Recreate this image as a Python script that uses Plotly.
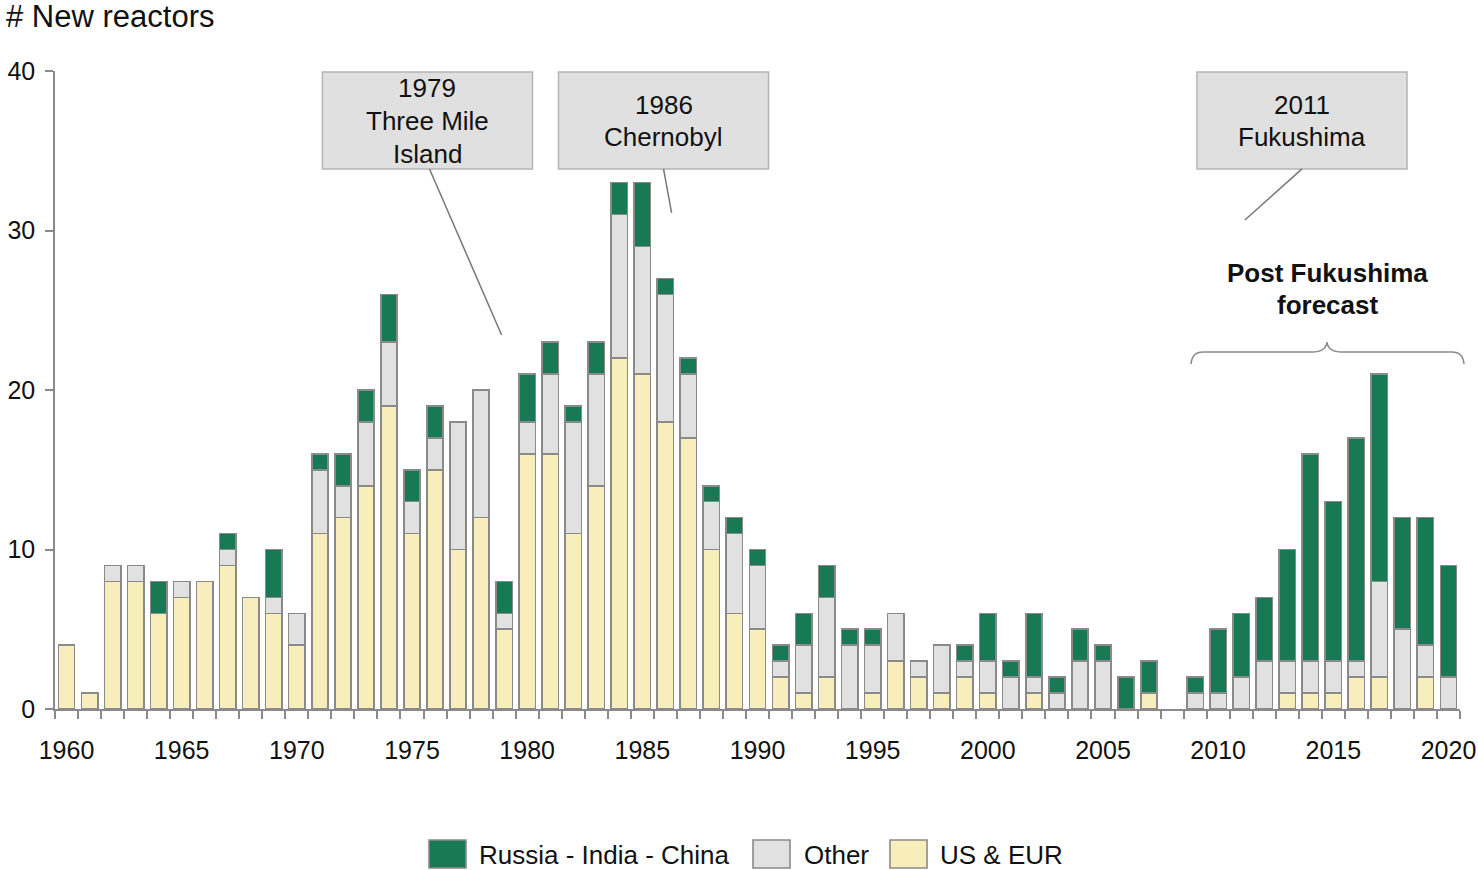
import plotly.graph_objects as go

# New reactor grid connections per year, split by region
years = list(range(1960, 2021))

us_eur = [4, 1, 8, 8, 6, 7, 8, 9, 7, 6,
          4, 11, 12, 14, 19, 11, 15, 10, 12, 5,
          16, 16, 11, 14, 22, 21, 18, 17, 10, 6,
          5, 2, 1, 2, 0, 1, 3, 2, 1, 2,
          1, 0, 1, 0, 0, 0, 0, 1, 0, 0,
          0, 0, 0, 1, 1, 1, 2, 2, 0, 2,
          0]

other = [0, 0, 1, 1, 0, 1, 0, 1, 0, 1,
         2, 4, 2, 4, 4, 2, 2, 8, 8, 1,
         2, 5, 7, 7, 9, 8, 8, 4, 3, 5,
         4, 1, 3, 5, 4, 3, 3, 1, 3, 1,
         2, 2, 1, 1, 3, 3, 0, 0, 0, 1,
         1, 2, 3, 2, 2, 2, 1, 6, 5, 2,
         2]

russia_india_china = [0, 0, 0, 0, 2, 0, 0, 1, 0, 3,
                      0, 1, 2, 2, 3, 2, 2, 0, 0, 2,
                      3, 2, 1, 2, 2, 4, 1, 1, 1, 1,
                      1, 1, 2, 2, 1, 1, 0, 0, 0, 1,
                      3, 1, 4, 1, 2, 1, 2, 2, 0, 1,
                      4, 4, 4, 7, 13, 10, 14, 13, 7, 8,
                      7]

tick_years = list(range(1960, 2021, 5))

FONT = "Arial, Liberation Sans, sans-serif"
GREEN = "#187a55"
GREY = "#e1e1e1"
CREAM = "#f8eebb"
OUTLINE = "#8a8a8a"


def nz(vals):
    return [v if v else None for v in vals]


fig = go.Figure()
series = [("US & EUR", us_eur, CREAM),
          ("Other", other, GREY),
          ("Russia - India - China", russia_india_china, GREEN)]
for name, vals, col in series:
    fig.add_trace(go.Bar(
        x=years, y=nz(vals), name=name,
        marker=dict(color=col, line=dict(color=OUTLINE, width=1.6)),
        showlegend=False, hoverinfo="x+y+name"))

shapes = []
annotations = []

# pixel -> paper helpers for the page furniture
bx = lambda px: (px - 55) / 1405
by = lambda py: (709 - py) / 638

# Event call-outs: grey boxes with a leader line down towards the bars
callouts = [
    # (box x0, box x1, text lines, line from (x, y) to (x, y))
    (1971.11, 1980.23, ["1979", "Three Mile", "Island"], (1975.76, 33.86), (1978.89, 23.45)),
    (1981.36, 1990.48, ["1986", "Chernobyl"], (1985.92, 33.86), (1986.27, 31.10)),
    (2009.08, 2018.20, ["2011", "Fukushima"], (2013.64, 33.86), (2011.16, 30.66)),
]
LINE_STEP = 32.5  # px between text lines
for x0, x1, lines, p0, p1 in callouts:
    shapes.append(dict(type="rect", xref="x", yref="y", x0=x0, x1=x1, y0=33.86, y1=39.94,
                       fillcolor="#e0e0e0", line=dict(color="#b4b4b4", width=1.5),
                       layer="above"))
    shapes.append(dict(type="line", xref="x", yref="y", x0=p0[0], y0=p0[1], x1=p1[0], y1=p1[1],
                       line=dict(color="#777777", width=1.5)))
    centre_px = 121
    first_px = centre_px - LINE_STEP * (len(lines) - 1) / 2
    for i, ln in enumerate(lines):
        annotations.append(dict(xref="x", yref="paper", x=(x0 + x1) / 2,
                                y=by(first_px + i * LINE_STEP), text=ln,
                                showarrow=False, xanchor="center", yanchor="middle",
                                font=dict(family=FONT, size=26, color="#111111")))

# Forecast label with curly brace
for i, ln in enumerate(["Post Fukushima", "forecast"]):
    annotations.append(dict(xref="x", yref="paper", x=2014.73, y=by(273 + i * 32),
                            text=f"<b>{ln}</b>", showarrow=False,
                            xanchor="center", yanchor="middle",
                            font=dict(family=FONT, size=26, color="#111111")))
brace = (f"M{bx(1191)},{by(364)} Q{bx(1192)},{by(352)} {bx(1203)},{by(352)} "
         f"L{bx(1312)},{by(352)} Q{bx(1326)},{by(352)} {bx(1327)},{by(342)} "
         f"Q{bx(1328)},{by(352)} {bx(1342)},{by(352)} "
         f"L{bx(1452)},{by(352)} Q{bx(1463)},{by(352)} {bx(1464)},{by(364)}")
shapes.append(dict(type="path", xref="paper", yref="paper", path=brace,
                   line=dict(color="#8a8a8a", width=1.5)))

# Axis title at top-left
annotations.append(dict(xref="paper", yref="paper", x=bx(4), y=by(17), text="# New reactors",
                        showarrow=False, xanchor="left", yanchor="middle",
                        font=dict(family=FONT, size=31, color="#111111")))

# Legend built from swatches and labels
legend_items = [(429, 466, 477, "Russia - India - China", GREEN),
                (753, 790, 802, "Other", GREY),
                (890, 927, 938, "US & EUR", CREAM)]
for sx0, sx1, tx, label, col in legend_items:
    shapes.append(dict(type="rect", xref="paper", yref="paper",
                       x0=bx(sx0), x1=bx(sx1), y0=by(840), y1=by(868),
                       fillcolor=col, line=dict(color=OUTLINE, width=1.6)))
    annotations.append(dict(xref="paper", yref="paper", x=bx(tx), y=by(855), text=label,
                            showarrow=False, xanchor="left", yanchor="middle",
                            font=dict(family=FONT, size=26, color="#111111")))

fig.update_layout(
    width=1478, height=870,
    margin=dict(l=55, r=18, t=71, b=161),
    barmode="stack", bargap=0.29,
    plot_bgcolor="white", paper_bgcolor="white",
    font=dict(family=FONT, size=25, color="#111111"),
    shapes=shapes, annotations=annotations,
    xaxis=dict(range=[1959.5, 2020.5], tickmode="array", tickvals=tick_years,
               ticks="", showline=True, linecolor=OUTLINE, linewidth=1.5,
               showgrid=False, zeroline=False, ticklabelstandoff=18, automargin=False,
               tickfont=dict(family=FONT, size=25, color="#111111"),
               minor=dict(tick0=1959.5, dtick=1, ticks="outside", ticklen=8,
                          tickwidth=1.5, tickcolor=OUTLINE, showgrid=False)),
    yaxis=dict(range=[0, 40], tickmode="array", tickvals=[0, 10, 20, 30, 40],
               ticks="outside", ticklen=8, tickwidth=1.5, tickcolor=OUTLINE,
               showline=True, linecolor=OUTLINE, linewidth=1.5, automargin=False,
               showgrid=False, zeroline=False, ticklabelstandoff=5,
               tickfont=dict(family=FONT, size=25, color="#111111")),
)

fig.write_html("out.html")
